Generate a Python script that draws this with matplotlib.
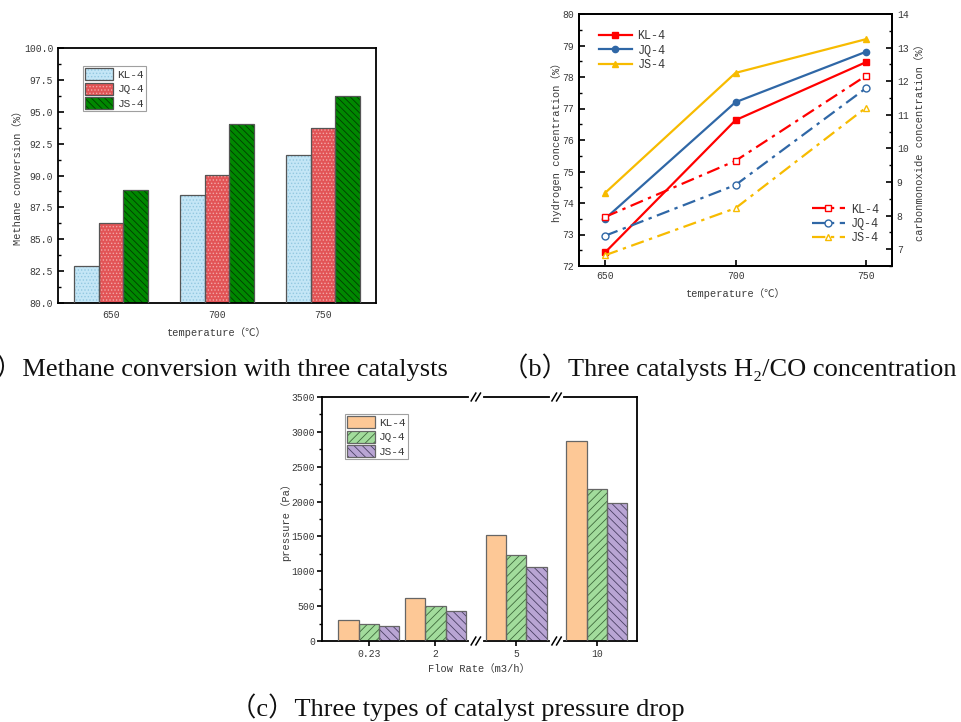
import matplotlib
matplotlib.use("Agg")
import matplotlib.pyplot as plt
import numpy as np
from matplotlib.legend_handler import HandlerTuple
from matplotlib.ticker import MultipleLocator, FormatStrFormatter

# ---------------- data ----------------
temps_a = ['650', '700', '750']
series_names = ['KL-4', 'JQ-4', 'JS-4']
methane_kl = [82.9, 88.5, 91.6]
methane_jq = [86.3, 90.05, 93.75]
methane_js = [88.9, 94.05, 96.2]

temps_b = [650, 700, 750]
h2_kl = [72.43, 76.63, 78.47]
h2_jq = [73.5, 77.2, 78.8]
h2_js = [74.32, 78.13, 79.2]
co_kl = [7.96, 9.63, 12.16]
co_jq = [7.4, 8.91, 11.79]
co_js = [6.82, 8.22, 11.21]

flow_labels = ['0.23', '2', '5', '10']
p_kl = [307, 618, 1524, 2867]
p_jq = [249, 508, 1227, 2186]
p_js = [211, 431, 1055, 1975]

captions = ['（a）Methane conversion with three catalysts',
            '（b）Three catalysts H₂/CO concentration',
            '（c）Three types of catalyst pressure drop']

# ---------------- style ----------------
MONO = ['Liberation Mono', 'Noto Sans CJK SC', 'DejaVu Sans']
SERIF = ['Liberation Serif', 'Noto Sans CJK SC', 'DejaVu Serif']
plt.rcParams['font.family'] = MONO
plt.rcParams['hatch.linewidth'] = 0.6
TXT = '#3a3a3a'
TICK_FS = 7
LAB_FS = 7.5
LEG_FS = 8

W, H = 961, 722
fig = plt.figure(figsize=(W / 100, H / 100), dpi=100)


def rect(l, t, r, b):
    return [l / W, 1 - b / H, (r - l) / W, (b - t) / H]


def style_axes(ax):
    for s in ax.spines.values():
        s.set_linewidth(1.3)
        s.set_color('black')
    ax.tick_params(labelsize=TICK_FS, labelcolor=TXT)


def hatched_bars(ax, x, h, width, face, hatch, hcolor, edge):
    fill = ax.bar(x, h, width, color=face, hatch=hatch, edgecolor=hcolor,
                  linewidth=0, zorder=2)
    outl = ax.bar(x, h, width, fill=False, edgecolor=edge, linewidth=0.9,
                  zorder=3)
    return (fill[0], outl[0])


def box_legend(ax, handles, anchor):
    lg = ax.legend(handles, series_names, handler_map={tuple: HandlerTuple(ndivide=1)},
                   loc='upper left', bbox_to_anchor=anchor, borderaxespad=0,
                   fontsize=LEG_FS, frameon=True, fancybox=False, edgecolor='#888888',
                   handlelength=2.5, handleheight=1.25, labelspacing=0.25,
                   handletextpad=0.4, borderpad=0.2)
    lg.get_frame().set_linewidth(0.8)
    for t in lg.get_texts():
        t.set_color(TXT)
    return lg


# ================= (a) =================
axa = fig.add_axes(rect(58, 48, 376, 303))
style_axes(axa)
xa = np.arange(len(temps_a))
wa = 0.235
vals_a = [methane_kl, methane_jq, methane_js]
sty_a = [('#c4e6f6', '.....', '#93c8e0'),
         ('#e25456', '.....', '#f3a7a7'),
         ('#008800', '\\\\\\\\\\', '#003d00')]
hand_a = []
for i, (v, (fc, ht, hc)) in enumerate(zip(vals_a, sty_a)):
    hand_a.append(hatched_bars(axa, xa + (i - 1) * wa, v, wa, fc, ht, hc, '#555555'))
axa.set_xlim(-0.5, 2.5)
axa.set_ylim(80, 100)
axa.set_xticks(xa)
axa.set_xticklabels(temps_a)
axa.yaxis.set_major_locator(MultipleLocator(2.5))
axa.yaxis.set_minor_locator(MultipleLocator(1.25))
axa.yaxis.set_major_formatter(FormatStrFormatter('%.1f'))
axa.tick_params(axis='both', which='both', direction='in')
axa.tick_params(axis='both', which='major', length=4, width=1.2)
axa.tick_params(axis='y', which='minor', length=2.5, width=1)
axa.tick_params(axis='x', pad=5)
axa.set_ylabel('Methane conversion（%）', fontsize=LAB_FS, color=TXT, labelpad=0.5)
axa.set_xlabel('temperature（℃）', fontsize=LAB_FS, color=TXT, labelpad=5)
box_legend(axa, hand_a, (0.079, 0.929))

# ================= (b) =================
axb = fig.add_axes(rect(579, 14, 892, 266))
style_axes(axb)
axb2 = axb.twinx()
style_axes(axb2)
cols_b = ['#ff0000', '#2f67a6', '#f7bb00']
marks_b = ['s', 'o', '^']
h2_vals = [h2_kl, h2_jq, h2_js]
co_vals = [co_kl, co_jq, co_js]
lines_h2 = []
lines_co = []
for v, c, m in zip(h2_vals, cols_b, marks_b):
    ln, = axb.plot(temps_b, v, color=c, marker=m, markersize=4.5, lw=1.6, zorder=3)
    lines_h2.append(ln)
for v, c, m in zip(co_vals, cols_b, marks_b):
    ln, = axb2.plot(temps_b, v, color=c, marker=m, markersize=5, lw=1.6,
                    linestyle=(0, (6, 2.5, 1.5, 2.5)), markerfacecolor='white',
                    markeredgewidth=1, zorder=3)
    lines_co.append(ln)
axb.set_xlim(640, 760)
axb.set_ylim(72, 80)
axb2.set_ylim(6.5, 14)
axb.set_xticks(temps_b)
axb.yaxis.set_major_locator(MultipleLocator(1))
axb.yaxis.set_minor_locator(MultipleLocator(0.5))
axb2.yaxis.set_major_locator(MultipleLocator(1))
axb2.yaxis.set_minor_locator(MultipleLocator(0.5))
for a in (axb, axb2):
    a.tick_params(axis='both', which='both', direction='in')
    a.tick_params(axis='both', which='major', length=4, width=1.2)
    a.tick_params(axis='y', which='minor', length=2.5, width=1)
axb.set_ylabel('hydrogen concentration（%）', fontsize=LAB_FS, color=TXT, labelpad=0)
axb2.set_ylabel('carbonmonoxide concentration（%）', fontsize=LAB_FS, color=TXT, labelpad=4.5)
axb.set_xlabel('temperature（℃）', fontsize=LAB_FS, color=TXT, labelpad=5)
leg1 = axb2.legend(lines_h2, series_names, loc='upper left',
                   bbox_to_anchor=(0.055, 0.945), borderaxespad=0, frameon=False,
                   fontsize=8.5, handlelength=2.8, labelspacing=0.2,
                   handletextpad=0.5, borderpad=0.2)
axb2.add_artist(leg1)
leg2 = axb2.legend(lines_co, series_names, loc='lower right',
                   bbox_to_anchor=(0.965, 0.077), borderaxespad=0, frameon=False,
                   fontsize=8.5, handlelength=2.8, labelspacing=0.2,
                   handletextpad=0.5, borderpad=0.2)
for lg in (leg1, leg2):
    for t in lg.get_texts():
        t.set_color(TXT)

# ================= (c) =================
axc = fig.add_axes(rect(322, 397, 637, 641))
style_axes(axc)
# group centres: equal spacing, extra gap where the axis is broken
gap = 0.21
xc = np.array([0.0, 1.0, 2.0 + gap, 3.0 + 2 * gap])
wc = 0.305
vals_c = [p_kl, p_jq, p_js]
sty_c = [('#fdc896', '', '#fdc896'),
         ('#a2dc9c', '////', '#3f6a3c'),
         ('#b9a5d4', '\\\\\\\\', '#4a3f63')]
hand_c = []
for i, (v, (fc, ht, hc)) in enumerate(zip(vals_c, sty_c)):
    hand_c.append(hatched_bars(axc, xc + (i - 1) * wc, v, wc, fc, ht, hc, '#666666'))
axc.set_xlim(-0.7, xc[-1] + 0.6)
axc.set_ylim(0, 3500)
axc.set_xticks(xc)
axc.set_xticklabels(flow_labels)
axc.yaxis.set_major_locator(MultipleLocator(500))
axc.yaxis.set_minor_locator(MultipleLocator(250))
axc.tick_params(axis='both', which='both', direction='out')
axc.tick_params(axis='both', which='major', length=3.5, width=1.2)
axc.tick_params(axis='y', which='minor', length=2, width=1)
axc.tick_params(axis='y', pad=1.5)
axc.tick_params(axis='x', pad=2)
axc.set_ylabel('pressure（Pa）', fontsize=LAB_FS, color=TXT, labelpad=0.5)
axc.set_xlabel('Flow Rate（m3/h）', fontsize=LAB_FS, color=TXT, labelpad=4)
box_legend(axc, hand_c, (0.073, 0.93))

# axis-break marks
tr = axc.get_xaxis_transform()
for xb in [(xc[1] + xc[2]) / 2, (xc[2] + xc[3]) / 2]:
    for yy in (0, 1):
        axc.plot([xb - 0.07, xb + 0.07], [yy, yy], color='white', lw=3,
                 transform=tr, clip_on=False, zorder=6)
        for dxo in (-0.035, 0.035):
            axc.plot([xb + dxo - 0.035, xb + dxo + 0.035], [yy - 0.016, yy + 0.016],
                     color='black', lw=1.1, transform=tr, clip_on=False, zorder=7)

# ---------------- captions ----------------
CAP_FS = 19
cap_kw = dict(fontsize=CAP_FS, family=SERIF, color='#111111', va='center')
# (a): the tag is cut by the left page edge in the reference
fig.text(448 / W, 1 - 367 / H, captions[0], ha='right', **cap_kw)
fig.text(502 / W, 1 - 367 / H, captions[1], ha='left', **cap_kw)
fig.text(230 / W, 1 - 707 / H, captions[2], ha='left', **cap_kw)

fig.savefig('out.png', dpi=100)
